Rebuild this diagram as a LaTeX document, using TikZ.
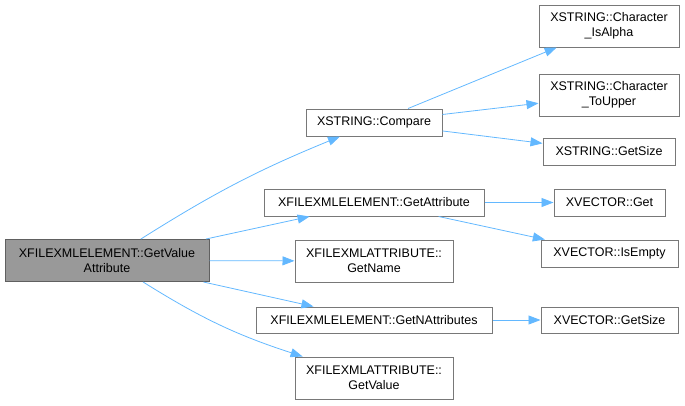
\documentclass[tikz,border=0pt]{standalone}
\usepackage{fontspec}
\setmainfont{Liberation Sans}
\usetikzlibrary{arrows.meta}

\definecolor{edgeblue}{HTML}{63B8FF}
\definecolor{boxgray}{HTML}{787878}
\definecolor{rootgray}{HTML}{999999}

\tikzset{
  fn/.style={draw=boxgray,fill=white,line width=1pt,align=center,inner sep=1pt,
    font=\fontsize{12.5}{15}\selectfont,minimum height=27pt},
  fntwo/.style={fn,minimum height=42pt},
  call/.style={draw=edgeblue,line width=0.8pt,-{Triangle[length=12pt,width=9pt,fill=edgeblue]}},
}

\begin{document}
\begin{tikzpicture}[x=1pt,y=-1pt]
\useasboundingbox (0,0) rectangle (685,405);

\node[fntwo,fill=rootgray,draw=boxgray!80!black,minimum width=204pt] (root) at (107,260.5) {XFILEXMLELEMENT::GetValue\\Attribute};

\node[fn,minimum width=136pt] (cmp) at (374,122.5) {XSTRING::Compare};
\node[fn,minimum width=220pt] (gattr) at (374,202.5) {XFILEXMLELEMENT::GetAttribute};
\node[fntwo,minimum width=158pt] (gname) at (374,261) {XFILEXMLATTRIBUTE::\\GetName};
\node[fn,minimum width=236pt,minimum height=26pt] (gnattr) at (374,320) {XFILEXMLELEMENT::GetNAttributes};
\node[fntwo,minimum width=158pt] (gvalue) at (374,378) {XFILEXMLATTRIBUTE::\\GetValue};

\node[fntwo,minimum width=140pt] (isalpha) at (609,26) {XSTRING::Character\\\_IsAlpha};
\node[fntwo,minimum width=140pt] (toupper) at (609,95) {XSTRING::Character\\\_ToUpper};
\node[fn,minimum width=132pt] (sgetsize) at (609,151.5) {XSTRING::GetSize};
\node[fn,minimum width=111pt] (vget) at (609.5,202.5) {XVECTOR::Get};
\node[fn,minimum width=137pt] (visempty) at (609.5,253.5) {XVECTOR::IsEmpty};
\node[fn,minimum width=137pt,minimum height=26pt] (vgetsize) at (609.5,320) {XVECTOR::GetSize};

% calls from the root
\draw[call] (root) to[bend left=5] (cmp);
\draw[call] (root) -- (gattr);
\draw[call] (root) -- (gname);
\draw[call] (root) -- (gnattr);
\draw[call] (root) to[bend right=7] (gvalue);

% second level
\draw[call] (cmp) -- (isalpha);
\draw[call] (cmp) -- (toupper);
\draw[call] (cmp) -- (sgetsize);
\draw[call] (gattr) -- (vget);
\draw[call] (gattr) -- (visempty);
\draw[call] (gnattr) -- (vgetsize);

\end{tikzpicture}
\end{document}
